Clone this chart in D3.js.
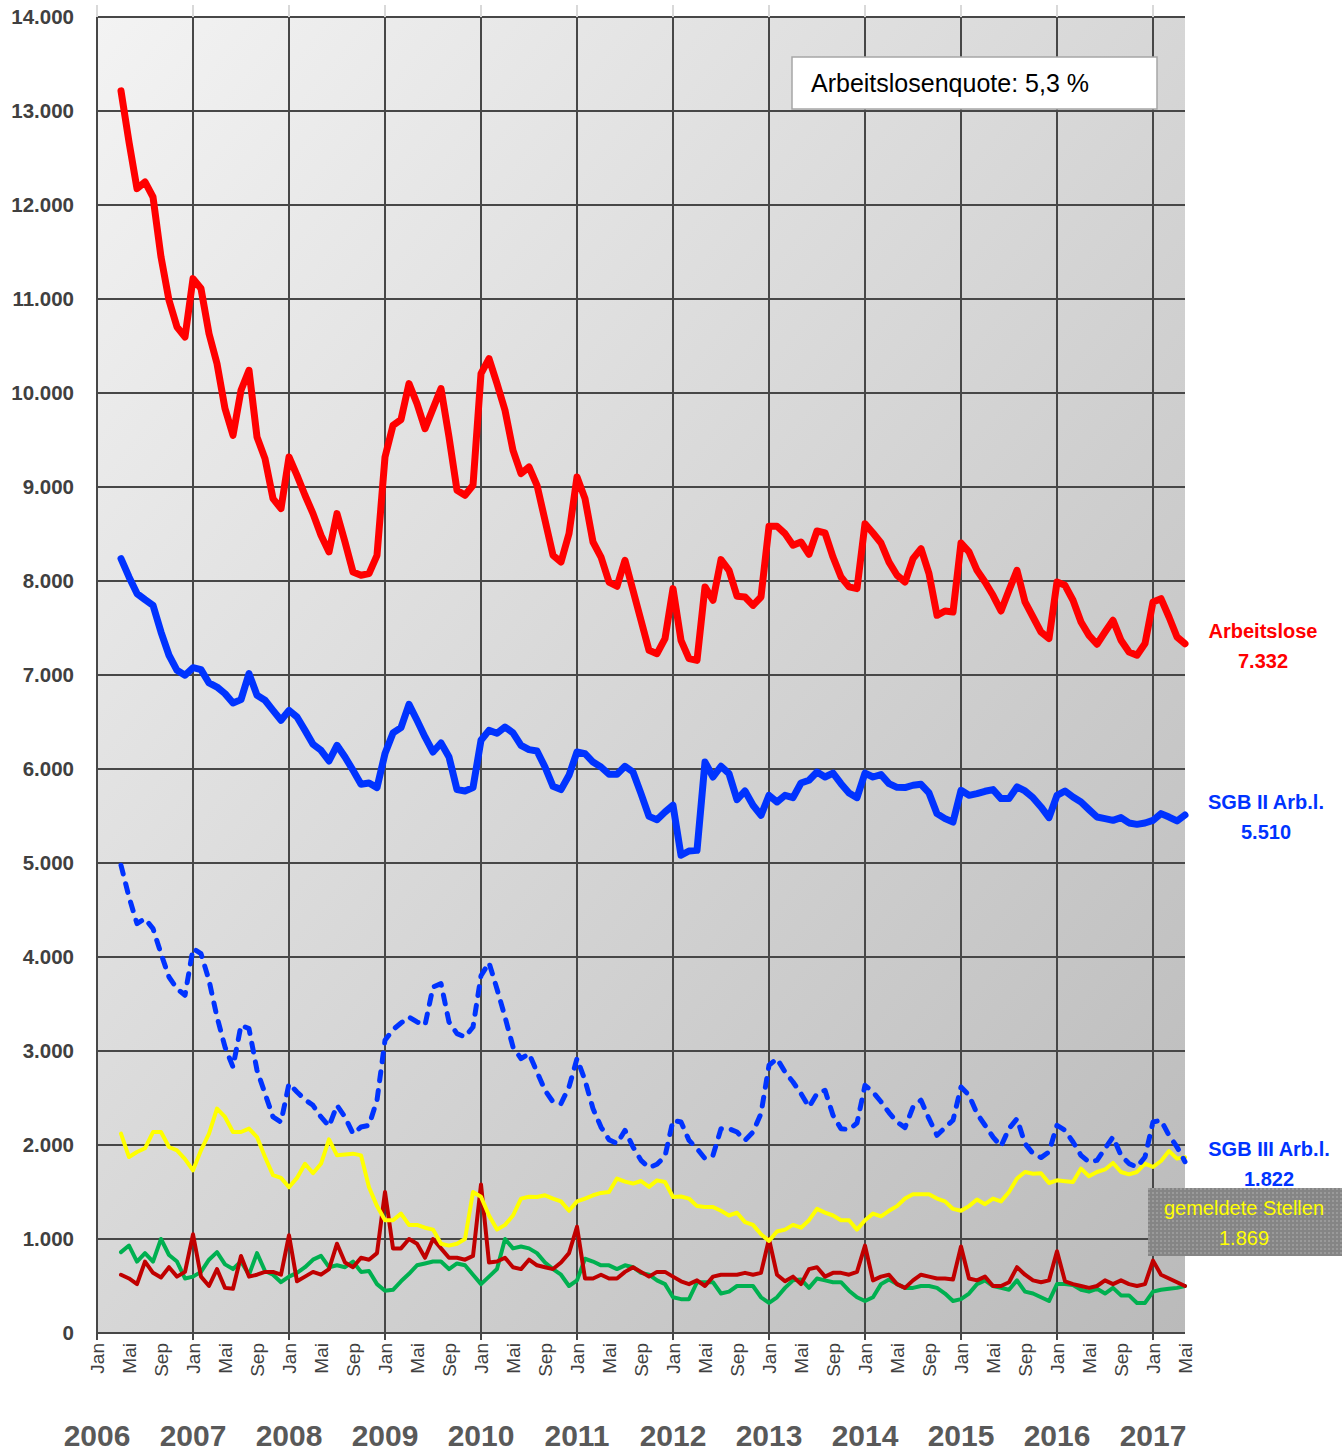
<!DOCTYPE html>
<html>
<head>
<meta charset="utf-8">
<script src="https://cdn.jsdelivr.net/npm/d3@7"></script>
<style>
  body { margin: 0; background: #fff; }
  svg { display: block; font-family: "Liberation Sans", Arial, sans-serif; }
</style>
</head>
<body>
<div id="chart"></div>
<script>
// month index counted from Jan 2006; data starts Apr 2006 (3) and ends Mai 2017 (136)
const firstMonth = 3;
const lastMonth = 136;

const arbeitslose = [
  13214, 12670, 12174, 12245, 12085, 11447, 10986, 10702, 10596,
  11217, 11111, 10632, 10313, 9834, 9550, 10029, 10242, 9532, 9302, 8877, 8770,
  9319, 9124, 8912, 8717, 8486, 8309, 8717, 8415, 8096, 8061, 8078, 8273,
  9319, 9656, 9717, 10100, 9887, 9621, 9834, 10047, 9532, 8965, 8912, 9018,
  10206, 10366, 10100, 9816, 9390, 9142, 9213, 9018, 8646, 8273, 8202, 8504,
  9107, 8876, 8415, 8255, 7989, 7944, 8220, 7901, 7582, 7263, 7227, 7387,
  7919, 7369, 7174, 7156, 7937, 7795, 8227, 8114, 7837, 7830, 7741, 7830,
  8582, 8582, 8504, 8380, 8415, 8283, 8532, 8511, 8255, 8043, 7937, 7919,
  8610, 8511, 8404, 8200, 8061, 7989, 8238, 8344, 8078, 7635, 7681, 7670,
  8404, 8309, 8114, 7989, 7848, 7681, 7901, 8114, 7777, 7617, 7457, 7387,
  7989, 7954, 7795, 7564, 7422, 7327, 7457, 7582, 7369, 7245, 7210, 7334,
  7777, 7812, 7617, 7404, 7332
];

const sgb2 = [
  8238, 8043, 7866, 7802, 7741, 7457, 7210, 7050, 6997,
  7078, 7057, 6915, 6872, 6802, 6702, 6738, 7015, 6784, 6731, 6624, 6518,
  6624, 6553, 6411, 6263, 6199, 6085, 6252, 6128, 5986, 5837, 5851, 5802,
  6164, 6384, 6440, 6688, 6518, 6341, 6181, 6277, 6128, 5781, 5766, 5802,
  6306, 6411, 6380, 6447, 6384, 6252, 6206, 6191, 6021, 5816, 5781, 5933,
  6181, 6164, 6074, 6021, 5944, 5944, 6029, 5968, 5738, 5496, 5461, 5543,
  5614, 5082, 5128, 5135, 6074, 5915, 6029, 5951, 5674, 5766, 5614, 5507,
  5720, 5649, 5720, 5695, 5851, 5880, 5968, 5915, 5957, 5844, 5745, 5695,
  5957, 5915, 5940, 5844, 5805, 5802, 5827, 5837, 5745, 5525, 5472, 5436,
  5773, 5720, 5738, 5763, 5781, 5685, 5685, 5809, 5766, 5695, 5596, 5483,
  5720, 5766, 5702, 5649, 5568, 5489, 5472, 5454, 5483, 5426, 5411, 5426,
  5454, 5525, 5489, 5447, 5510
];

const sgb3 = [
  4976, 4638, 4355, 4408, 4302, 4036, 3787, 3663, 3593,
  4089, 4036, 3752, 3362, 3043, 2830, 3274, 3238, 2795, 2547, 2298, 2245,
  2653, 2564, 2483, 2422, 2298, 2199, 2422, 2298, 2121, 2191, 2210, 2476,
  3114, 3227, 3298, 3362, 3309, 3274, 3681, 3717, 3309, 3185, 3149, 3255,
  3800, 3940, 3660, 3362, 3043, 2919, 2972, 2777, 2582, 2458, 2440, 2617,
  2919, 2688, 2387, 2191, 2057, 2015, 2156, 1979, 1837, 1759, 1795, 1880,
  2263, 2245, 2050, 1962, 1855, 1890, 2174, 2174, 2138, 2050, 2138, 2334,
  2848, 2919, 2777, 2670, 2547, 2404, 2547, 2582, 2316, 2174, 2164, 2234,
  2635, 2564, 2460, 2345, 2245, 2185, 2404, 2476, 2280, 2103, 2185, 2263,
  2617, 2529, 2334, 2210, 2085, 1986, 2174, 2280, 2015, 1908, 1866, 1926,
  2210, 2156, 2032, 1890, 1819, 1837, 1962, 2085, 1890, 1802, 1766, 1872,
  2245, 2263, 2103, 1979, 1822
];

const stellen = [
  2121, 1872, 1926, 1965, 2138, 2138, 1979, 1943, 1850,
  1730, 1943, 2121, 2387, 2298, 2138, 2138, 2174, 2085, 1872, 1680, 1650,
  1550, 1650, 1800, 1700, 1800, 2060, 1890, 1900, 1908, 1890, 1550, 1350,
  1200, 1200, 1270, 1150, 1150, 1120, 1100, 950, 930, 950, 1000, 1500,
  1450, 1250, 1100, 1150, 1250, 1430, 1450, 1447, 1465, 1430, 1400, 1300,
  1400, 1430, 1465, 1490, 1500, 1643, 1610, 1590, 1617, 1555, 1624, 1606,
  1447, 1452, 1430, 1350, 1340, 1340, 1300, 1250, 1280, 1180, 1150, 1050,
  980, 1080, 1100, 1150, 1120, 1200, 1320, 1280, 1250, 1200, 1200, 1100,
  1200, 1270, 1240, 1300, 1350, 1430, 1476, 1476, 1476, 1430, 1400, 1320,
  1300, 1350, 1420, 1370, 1430, 1400, 1500, 1643, 1713, 1695, 1700, 1596,
  1624, 1615, 1606, 1749, 1667, 1713, 1740, 1809, 1713, 1688, 1713, 1802,
  1766, 1830, 1936, 1855, 1869
];

const zugang = [
  620, 580, 520, 760, 640, 590, 700, 600, 650,
  1050, 600, 500, 680, 480, 470, 820, 600, 620, 650, 650, 620,
  1040, 550, 600, 650, 620, 680, 950, 750, 700, 800, 780, 850,
  1500, 900, 900, 1000, 950, 800, 1000, 900, 800, 800, 780, 820,
  1580, 750, 760, 800, 700, 680, 780, 720, 700, 680, 750, 850,
  1130, 580, 580, 620, 580, 580, 650, 700, 650, 600, 650, 650,
  600, 550, 520, 560, 500, 600, 620, 620, 620, 640, 620, 640,
  1000, 620, 550, 600, 520, 680, 700, 600, 640, 640, 620, 650,
  930, 560, 600, 620, 520, 480, 560, 620, 600, 580, 580, 570,
  920, 580, 560, 600, 500, 500, 540, 700, 620, 560, 540, 560,
  870, 550, 520, 500, 480, 500, 560, 520, 560, 520, 500, 520,
  770, 620, 580, 540, 500
];

const abgang = [
  860, 930, 760, 850, 760, 1000, 830, 760, 580,
  600, 650, 780, 860, 730, 680, 760, 620, 850, 660, 620, 540,
  600, 640, 700, 780, 820, 700, 720, 700, 760, 650, 660, 520,
  450, 460, 550, 630, 720, 740, 760, 760, 680, 740, 720, 620,
  520, 600, 680, 1000, 900, 920, 900, 850, 750, 680, 620, 500,
  560, 790, 760, 720, 720, 680, 720, 700, 640, 620, 560, 520,
  380, 360, 360, 540, 540, 540, 420, 440, 500, 500, 500, 380,
  320, 380, 480, 560, 570, 480, 580, 560, 540, 540, 450, 380,
  340, 380, 520, 570, 520, 480, 480, 500, 500, 480, 420, 340,
  360, 420, 520, 560, 500, 480, 460, 560, 440, 420, 380, 340,
  520, 520, 510, 460, 440, 470, 420, 480, 400, 400, 320, 320,
  440, 460, 470, 480, 500
];

const tickMonths = ["Jan", "Mai", "Sep"];
const years = d3.range(2006, 2018);
const quote = "Arbeitslosenquote: 5,3 %";

const series = [
  { name: "abgang", values: abgang, color: "#00b050", width: 4 },
  { name: "zugang", values: zugang, color: "#c00000", width: 4 },
  { name: "stellen", values: stellen, color: "#ffff00", width: 4 },
  { name: "sgb3", values: sgb3, color: "#0033ff", width: 5, dash: "9,10" },
  { name: "sgb2", values: sgb2, color: "#0033ff", width: 7 },
  { name: "arbeitslose", values: arbeitslose, color: "#ff0000", width: 7 }
];

const labels = [
  { lines: ["Arbeitslose", "7.332"], color: "#ff0000", x: 1263, y: 638 },
  { lines: ["SGB II Arb.l.", "5.510"], color: "#0033ff", x: 1266, y: 809 },
  { lines: ["SGB III Arb.l.", "1.822"], color: "#0033ff", x: 1269, y: 1156 }
];

const de = d3.formatLocale({ decimal: ",", thousands: ".", grouping: [3], currency: ["", " €"] });
const fmt = de.format(",d");

const width = 1342;
const height = 1454;
const margin = { top: 17, right: 157, bottom: 121, left: 97 };

const svg = d3.select("#chart")
  .append("svg")
  .attr("width", width)
  .attr("height", height);

const defs = svg.append("defs");
const grad = defs.append("linearGradient")
  .attr("id", "bg")
  .attr("x1", 0).attr("y1", 0)
  .attr("x2", 1).attr("y2", 1);
grad.append("stop").attr("offset", "0%").attr("stop-color", "#f3f3f3");
grad.append("stop").attr("offset", "100%").attr("stop-color", "#bababa");

const pat = defs.append("pattern")
  .attr("id", "dots")
  .attr("width", 4).attr("height", 4)
  .attr("patternUnits", "userSpaceOnUse");
pat.append("rect").attr("width", 4).attr("height", 4).attr("fill", "#858585");
pat.append("rect").attr("width", 2).attr("height", 2).attr("fill", "#9a9a9a");

const x = d3.scaleLinear()
  .domain([0, lastMonth])
  .range([margin.left, width - margin.right]);

const y = d3.scaleLinear()
  .domain([0, 14000])
  .range([height - margin.bottom, margin.top]);

// plot background
svg.append("rect")
  .attr("x", x(0))
  .attr("y", y(14000))
  .attr("width", x(lastMonth) - x(0))
  .attr("height", y(0) - y(14000))
  .attr("fill", "url(#bg)");

// grid
const yTicks = d3.range(0, 14001, 1000);
svg.append("g")
  .selectAll("line")
  .data(yTicks)
  .enter()
  .append("line")
  .attr("x1", x(0))
  .attr("x2", x(lastMonth))
  .attr("y1", d => y(d))
  .attr("y2", d => y(d))
  .attr("stroke", "#474747")
  .attr("stroke-width", 2);

const janMonths = d3.range(0, lastMonth + 1, 12);
svg.append("g")
  .selectAll("line")
  .data(janMonths)
  .enter()
  .append("line")
  .attr("x1", d => x(d))
  .attr("x2", d => x(d))
  .attr("y1", y(14000) - 12)
  .attr("y2", y(14000))
  .attr("stroke", "#d9d9d9")
  .attr("stroke-width", 2);

svg.append("g")
  .selectAll("line")
  .data(janMonths)
  .enter()
  .append("line")
  .attr("x1", d => x(d))
  .attr("x2", d => x(d))
  .attr("y1", y(14000))
  .attr("y2", y(0) + 7)
  .attr("stroke", "#474747")
  .attr("stroke-width", 2);

// y labels
svg.append("g")
  .selectAll("text")
  .data(yTicks)
  .enter()
  .append("text")
  .attr("x", 74)
  .attr("y", d => y(d))
  .attr("dy", "0.35em")
  .attr("text-anchor", "end")
  .attr("font-size", 20.5)
  .attr("font-weight", "bold")
  .attr("fill", "#404040")
  .text(d => fmt(d));

// x labels
const tickIdx = d3.range(0, lastMonth + 1, 4);
svg.append("g")
  .selectAll("text")
  .data(tickIdx)
  .enter()
  .append("text")
  .attr("transform", d => `translate(${x(d)},${y(0) + 10}) rotate(-90)`)
  .attr("dy", "0.35em")
  .attr("text-anchor", "end")
  .attr("font-size", 19)
  .attr("fill", "#404040")
  .text(d => tickMonths[(d % 12) / 4]);

svg.append("g")
  .selectAll("text")
  .data(years)
  .enter()
  .append("text")
  .attr("x", d => x((d - 2006) * 12))
  .attr("y", 1446)
  .attr("text-anchor", "middle")
  .attr("font-size", 30)
  .attr("font-weight", "bold")
  .attr("fill", "#595959")
  .text(d => d);

// lines
const line = d3.line()
  .x((d, i) => x(firstMonth + i))
  .y(d => y(d));

svg.append("g")
  .selectAll("path")
  .data(series)
  .enter()
  .append("path")
  .attr("fill", "none")
  .attr("stroke", d => d.color)
  .attr("stroke-width", d => d.width)
  .attr("stroke-linejoin", "round")
  .attr("stroke-linecap", "round")
  .attr("stroke-dasharray", d => d.dash || null)
  .attr("d", d => line(d.values));

// quote box
svg.append("rect")
  .attr("x", 792)
  .attr("y", 57)
  .attr("width", 365)
  .attr("height", 52)
  .attr("fill", "#fff")
  .attr("stroke", "#a6a6a6")
  .attr("stroke-width", 1.5);

svg.append("text")
  .attr("x", 811)
  .attr("y", 92)
  .attr("font-size", 25)
  .attr("fill", "#000")
  .text(quote);

// right labels
labels.forEach(l => {
  const t = svg.append("text")
    .attr("text-anchor", "middle")
    .attr("font-size", 20)
    .attr("font-weight", "bold")
    .attr("fill", l.color);
  l.lines.forEach((s, i) => {
    t.append("tspan")
      .attr("x", l.x)
      .attr("y", l.y + i * 30)
      .text(s);
  });
});

svg.append("rect")
  .attr("x", 1148)
  .attr("y", 1188)
  .attr("width", 194)
  .attr("height", 68)
  .attr("fill", "url(#dots)");

const st = svg.append("text")
  .attr("text-anchor", "middle")
  .attr("font-size", 20)
  .attr("fill", "#ffff00");
["gemeldete Stellen", "1.869"].forEach((s, i) => {
  st.append("tspan")
    .attr("x", 1244)
    .attr("y", 1215 + i * 30)
    .text(s);
});
</script>
</body>
</html>
